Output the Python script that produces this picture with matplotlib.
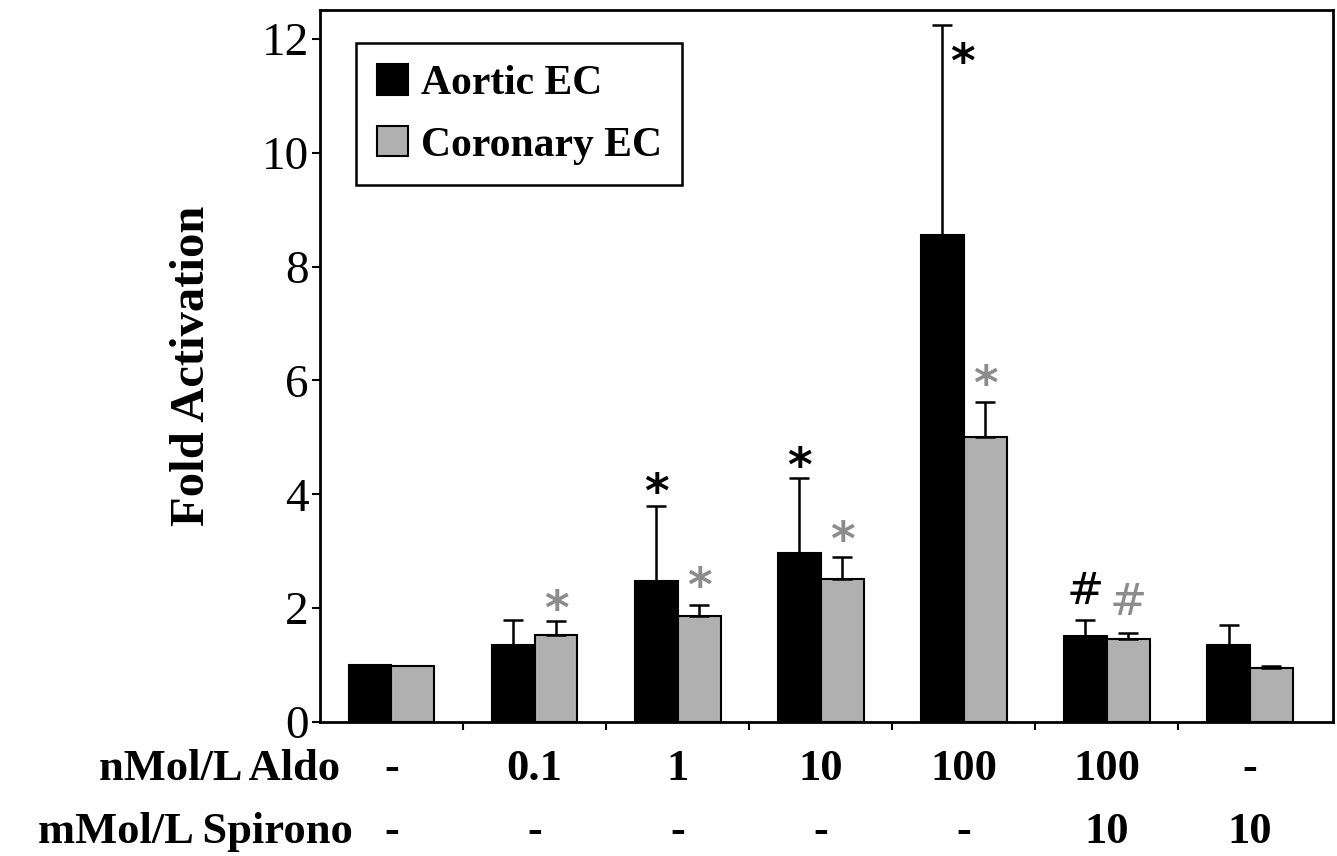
import matplotlib.pyplot as plt
import numpy as np

plt.rcParams['font.family'] = ['Liberation Serif', 'DejaVu Serif']

# data
aldo_labels = ["-", "0.1", "1", "10", "100", "100", "-"]
spirono_labels = ["-", "-", "-", "-", "-", "10", "10"]
aortic = [1.0, 1.35, 2.48, 2.97, 8.55, 1.51, 1.35]
aortic_err = [0.0, 0.44, 1.32, 1.31, 3.70, 0.28, 0.35]
coronary = [0.99, 1.53, 1.86, 2.51, 5.0, 1.46, 0.95]
coronary_err = [0.0, 0.24, 0.19, 0.38, 0.62, 0.10, 0.03]
# significance marks: (group, series, symbol, y)
marks = [
    (1, 1, "*", 1.95),
    (2, 0, "*", 4.0),
    (2, 1, "*", 2.35),
    (3, 0, "*", 4.45),
    (3, 1, "*", 3.15),
    (4, 0, "*", 11.55),
    (4, 1, "*", 5.9),
    (5, 0, "#", 2.3),
    (5, 1, "#", 2.1),
]

x = np.arange(len(aortic))
w = 0.3
black = "black"
grey = "#b0b0b0"

fig = plt.figure(figsize=(13.37, 8.56), dpi=100)
ax = fig.add_axes([0.2393, 0.1565, 0.7577, 0.8315])

ax.bar(x - w / 2, aortic, w, color=black, edgecolor="black", linewidth=1.5,
       label="Aortic EC")
ax.bar(x + w / 2, coronary, w, color=grey, edgecolor="black", linewidth=1.5,
       label="Coronary EC")
for xs, vals, errs in [(x - w / 2, aortic, aortic_err), (x + w / 2, coronary, coronary_err)]:
    for xi, v, e in zip(xs, vals, errs):
        if e > 0:
            ax.errorbar(xi, v, yerr=[[0], [e]], fmt="none", ecolor="black",
                        elinewidth=1.8, capsize=7, capthick=1.8)

for g, s, sym, yv in marks:
    xi = x[g] - w / 2 if s == 0 else x[g] + w / 2
    if g == 4 and s == 0:
        xi += 0.14  # star sits right of the tall error bar
    col = "black" if s == 0 else "#8c8c8c"
    if sym == "*":
        ax.text(xi, yv, "*", ha="center", va="center", fontsize=34,
                fontweight="bold", color=col, family="DejaVu Sans")
    else:
        ax.text(xi, yv, "#", ha="center", va="center", fontsize=32,
                color=col, family="DejaVu Sans")

ax.set_xlim(-0.5, 6.58)
ax.set_ylim(0, 12.5)
ax.set_yticks(np.arange(0, 13, 2))
ax.set_yticklabels([str(v) for v in range(0, 13, 2)], fontsize=34)
ax.set_xticks(x[:-1] + 0.5)
ax.set_xticklabels([])
ax.tick_params(axis="both", direction="out", length=6, width=1.5)
ax.tick_params(axis="y", pad=2)
for sp in ax.spines.values():
    sp.set_linewidth(2)

ax.set_ylabel("Fold Activation", fontsize=35, fontweight="bold", labelpad=34)

leg = ax.legend(loc="upper left", bbox_to_anchor=(0.015, 0.983),
                prop={"weight": "bold", "size": 30}, frameon=True, fancybox=False,
                edgecolor="black", framealpha=1, handlelength=0.75, handleheight=0.75,
                handletextpad=0.3, labelspacing=0.55, borderpad=0.5)
leg.get_frame().set_linewidth(1.8)

# treatment rows under the axis
trans = ax.get_xaxis_transform()
ax.text(-0.36, -0.066, "nMol/L Aldo", transform=trans, ha="right", va="center",
        fontsize=32, fontweight="bold", clip_on=False)
ax.text(-0.27, -0.155, "mMol/L Spirono", transform=trans, ha="right", va="center",
        fontsize=32, fontweight="bold", clip_on=False)
for xi, a, s in zip(x, aldo_labels, spirono_labels):
    ax.text(xi, -0.066, a, transform=trans, ha="center", va="center",
            fontsize=32, fontweight="bold", clip_on=False)
    ax.text(xi, -0.155, s, transform=trans, ha="center", va="center",
            fontsize=32, fontweight="bold", clip_on=False)

fig.savefig("out.png", dpi=100)
